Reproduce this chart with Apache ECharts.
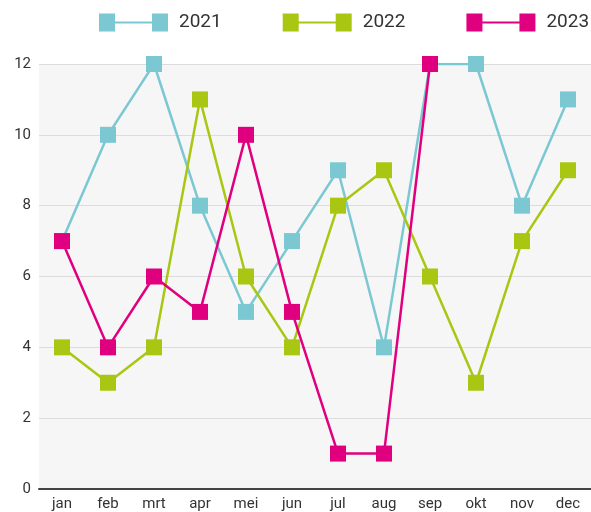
<!DOCTYPE html>
<html>
<head>
<meta charset="utf-8">
<script src="https://cdn.jsdelivr.net/npm/echarts@6/dist/echarts.min.js"></script>
<style>
  html, body { margin: 0; padding: 0; background: #fff; }
  #chart { width: 591px; height: 512px; }
</style>
</head>
<body>
<div id="chart"></div>
<script>
  // maanden en waarden per jaar
  const months = ['jan', 'feb', 'mrt', 'apr', 'mei', 'jun', 'jul', 'aug', 'sep', 'okt', 'nov', 'dec'];
  const y2021 = [7, 10, 12, 8, 5, 7, 9, 4, 12, 12, 8, 11];
  const y2022 = [4, 3, 4, 11, 6, 4, 8, 9, 6, 3, 7, 9];
  const y2023 = [7, 4, 6, 5, 10, 5, 1, 1, 12, null, null, null];

  const colors = ['#7bc8d3', '#a9c712', '#e0007f'];
  const legendIcon = 'path://M0,0H16V18H0Z M16,8H53V10H16Z M53,0H69V18H53Z';

  function makeSeries(name, data, color) {
    return {
      name: name,
      type: 'line',
      data: data,
      symbol: 'rect',
      symbolSize: 16,
      color: color,
      lineStyle: { width: 2.5, color: color },
      itemStyle: { color: color },
      connectNulls: false,
      animation: false
    };
  }

  const chart = echarts.init(document.getElementById('chart'));
  chart.setOption({
    textStyle: { fontFamily: 'Roboto' },
    legend: {
      top: 13,
      left: 99,
      width: 492,
      padding: 0,
      itemWidth: 69,
      itemHeight: 18,
      itemGap: 61,
      icon: legendIcon,
      textStyle: { fontSize: 19, color: '#333', padding: [0, 0, 0, 6] }
    },
    grid: {
      left: 39,
      right: 0,
      top: 64,
      bottom: 22,
      show: true,
      backgroundColor: '#f6f6f6',
      borderWidth: 0
    },
    xAxis: {
      type: 'category',
      data: months,
      boundaryGap: true,
      axisLine: { lineStyle: { color: '#444', width: 2 } },
      axisTick: { inside: true, length: 9, lineStyle: { color: '#444', width: 2 } },
      axisLabel: { color: '#333', fontSize: 15, margin: 8 }
    },
    yAxis: {
      type: 'value',
      min: 0,
      max: 12,
      interval: 2,
      axisLine: { show: false },
      axisTick: { show: false },
      axisLabel: { color: '#333', fontSize: 15, margin: 8 },
      splitLine: { lineStyle: { color: '#dcdcdc', width: 1 } }
    },
    series: [
      makeSeries('2021', y2021, colors[0]),
      makeSeries('2022', y2022, colors[1]),
      makeSeries('2023', y2023, colors[2])
    ]
  });
</script>
</body>
</html>
